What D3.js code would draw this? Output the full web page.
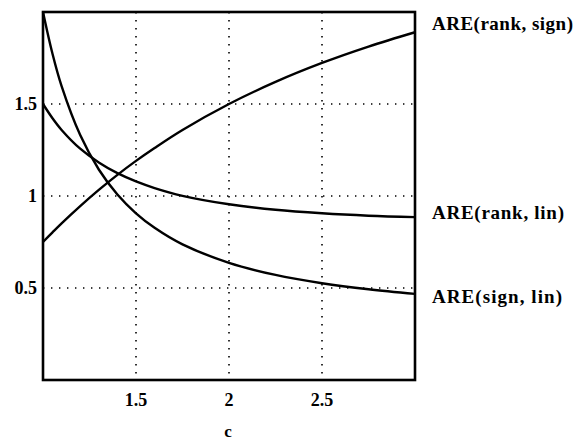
<!DOCTYPE html>
<html lang="en">
<head>
  <meta charset="UTF-8">
  <title>ARE curves</title>
  <script src="https://d3js.org/d3.v7.min.js"></script>
  <style>
    body { margin: 0; background: #fff; }
    text { font-family: "Liberation Serif", "DejaVu Serif", serif; font-weight: bold; fill: #000; }
  </style>
</head>
<body>
  <svg id="chart" width="578" height="444"></svg>

  <script>
    // c values and the three curves
    const cValues = [1, 1.05, 1.1, 1.2, 1.3, 1.4, 1.5, 1.6, 1.75, 2, 2.25, 2.5, 2.75, 3];
    const areRankSign = [0.75, 0.801, 0.851, 0.945, 1.033, 1.115, 1.191, 1.261, 1.359, 1.5, 1.62, 1.723, 1.812, 1.89];
    const areRankLin = [1.5, 1.424, 1.359, 1.257, 1.182, 1.124, 1.079, 1.043, 1.001, 0.955, 0.925, 0.906, 0.893, 0.885];
    const areSignLin = [2.0, 1.777, 1.597, 1.331, 1.144, 1.008, 0.906, 0.827, 0.737, 0.637, 0.571, 0.526, 0.493, 0.468];
    const seriesNames = ["ARE(rank, sign)", "ARE(rank, lin)", "ARE(sign, lin)"];
    const xTicks = [1.5, 2, 2.5];
    const yTicks = [0.5, 1, 1.5];
    const xTitle = "c";

    const svg = d3.select("#chart");
    const mLeft = 43, mRight = 415, mTop = 12, mBottom = 380;

    const x = d3.scaleLinear().domain([1, 3]).range([mLeft, mRight]);
    const y = d3.scaleLinear().domain([0, 2]).range([mBottom, mTop]);

    // dotted grid
    svg.append("g").selectAll("line")
      .data(xTicks)
      .join("line")
      .attr("x1", d => x(d)).attr("x2", d => x(d))
      .attr("y1", mTop).attr("y2", mBottom)
      .attr("stroke", "#000").attr("stroke-width", 1.6)
      .attr("stroke-dasharray", "1.4,6.6");

    svg.append("g").selectAll("line")
      .data(yTicks)
      .join("line")
      .attr("x1", mLeft).attr("x2", mRight)
      .attr("y1", d => y(d)).attr("y2", d => y(d))
      .attr("stroke", "#000").attr("stroke-width", 1.6)
      .attr("stroke-dasharray", "1.4,6.6");

    // curves
    const line = d3.line()
      .x((d, i) => x(cValues[i]))
      .y(d => y(d))
      .curve(d3.curveCatmullRom.alpha(0.5));

    [areRankSign, areRankLin, areSignLin].forEach(s => {
      svg.append("path")
        .datum(s)
        .attr("d", line)
        .attr("fill", "none")
        .attr("stroke", "#000")
        .attr("stroke-width", 2.4);
    });

    // frame
    svg.append("rect")
      .attr("x", mLeft).attr("y", mTop)
      .attr("width", mRight - mLeft).attr("height", mBottom - mTop)
      .attr("fill", "none").attr("stroke", "#000").attr("stroke-width", 2.6);

    // tick labels
    svg.append("g").selectAll("text")
      .data(xTicks)
      .join("text")
      .attr("x", d => x(d)).attr("y", 406)
      .attr("text-anchor", "middle")
      .style("font-size", "18px")
      .text(d => d);

    svg.append("g").selectAll("text")
      .data(yTicks)
      .join("text")
      .attr("x", 37).attr("y", d => y(d) + 6)
      .attr("text-anchor", "end")
      .style("font-size", "18px")
      .text(d => d);

    svg.append("text")
      .attr("x", x(2) - 1).attr("y", 437)
      .attr("text-anchor", "middle")
      .style("font-size", "17px")
      .text(xTitle);

    // curve names at the right end
    const labelY = [30, 219, 303];
    svg.append("g").selectAll("text")
      .data(seriesNames)
      .join("text")
      .attr("x", 432).attr("y", (d, i) => labelY[i])
      .style("font-size", "19px")
      .attr("textLength", (d, i) => [141, 132, 130][i])
      .text(d => d);
  </script>
</body>
</html>
